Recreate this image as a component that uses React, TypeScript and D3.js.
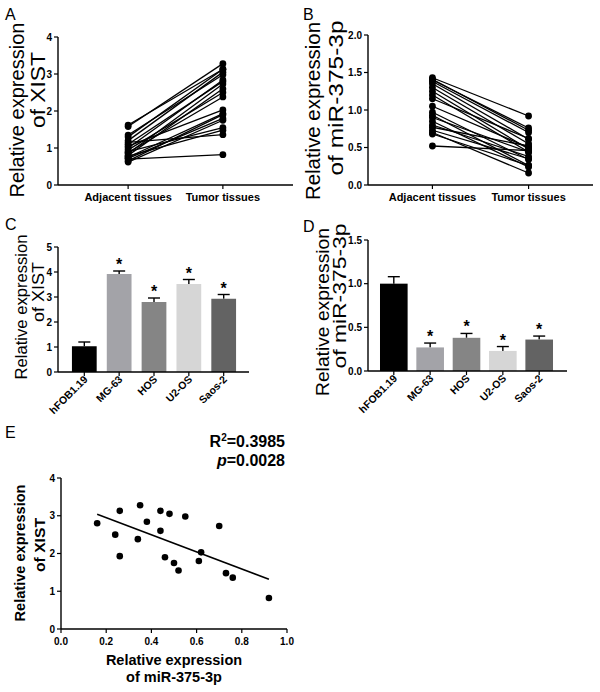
import React from "react";
import * as d3 from "d3";

const pairCategories = ["Adjacent tissues", "Tumor tissues"];
const xistAdjacent = [1.1, 0.95, 1.62, 0.75, 0.88, 1.58, 1.0, 1.3, 0.8, 0.65, 1.2, 0.62, 0.9, 1.35, 0.72, 1.05, 0.85, 0.78, 1.15, 0.7];
const xistTumor = [2.8, 2.5, 3.13, 1.93, 2.38, 3.28, 2.84, 3.13, 2.6, 1.9, 3.05, 1.75, 1.55, 2.98, 1.8, 2.03, 2.73, 1.48, 1.36, 0.82];
const mirAdjacent = [0.7, 0.85, 0.68, 0.93, 0.97, 0.73, 0.8, 1.2, 0.9, 0.52, 1.25, 1.05, 0.77, 1.3, 1.35, 1.15, 1.38, 1.41, 1.4, 1.43];
const mirTumor = [0.16, 0.24, 0.26, 0.26, 0.34, 0.35, 0.38, 0.44, 0.44, 0.46, 0.48, 0.5, 0.52, 0.55, 0.61, 0.62, 0.7, 0.73, 0.76, 0.92];

const cellLines = ["hFOB1.19", "MG-63", "HOS", "U2-OS", "Saos-2"];
const cellColors = ["#000000", "#a3a3a8", "#858585", "#d6d6d6", "#636363"];
const xistCell = [1.03, 3.92, 2.8, 3.52, 2.93];
const xistCellErr = [0.17, 0.12, 0.16, 0.18, 0.17];
const mirCell = [1.0, 0.27, 0.38, 0.23, 0.36];
const mirCellErr = [0.08, 0.05, 0.05, 0.05, 0.04];
const cellSig = [false, true, true, true, true];

const ticksA = [0, 1, 2, 3, 4];
const ticksB = [0, 0.5, 1, 1.5, 2];
const ticksC = [0, 1, 2, 3, 4, 5];
const ticksD = [0, 0.5, 1, 1.5];
const ticksEx = [0, 0.2, 0.4, 0.6, 0.8, 1.0];
const ticksEy = [0, 1, 2, 3, 4];

const FONT = "Liberation Sans, Arial, sans-serif";

function YAxis({ x, scale, ticks, fmt, y0, y1 }: any) {
  return (
    <g>
      <line x1={x} x2={x} y1={y0} y2={y1} stroke="#000" strokeWidth={1.4} />
      {ticks.map((t: number) => (
        <g key={t}>
          <line x1={x - 4} x2={x} y1={scale(t)} y2={scale(t)} stroke="#000" strokeWidth={1.2} />
          <text x={x - 6} y={scale(t)} dy="0.35em" textAnchor="end" fontSize={10} fontWeight="bold" fontFamily={FONT}>
            {fmt(t)}
          </text>
        </g>
      ))}
    </g>
  );
}

// rotated title line: baseline at x, centred on cy, forced length
function VText({ x, cy, text, size, len, bold }: any) {
  return (
    <text
      transform={`translate(${x},${cy}) rotate(-90)`}
      textAnchor="middle"
      fontSize={size}
      fontWeight={bold ? "bold" : "normal"}
      fontFamily={FONT}
      textLength={len}
      lengthAdjust="spacingAndGlyphs"
    >
      {text}
    </text>
  );
}

function PairPanel({ adj, tum, x0, x1, yTop, yBot, ymax, ticks, fmt, pad }: any) {
  const x = d3.scalePoint().domain(pairCategories).range([x0, x1]).padding(pad);
  const y = d3.scaleLinear().domain([0, ymax]).range([yBot, yTop]);
  const xa = x(pairCategories[0])!;
  const xt = x(pairCategories[1])!;
  return (
    <g>
      {adj.map((a: number, i: number) => (
        <line key={"l" + i} x1={xa} x2={xt} y1={y(a)} y2={y(tum[i])} stroke="#000" strokeWidth={1.3} />
      ))}
      {adj.map((a: number, i: number) => (
        <circle key={"a" + i} cx={xa} cy={y(a)} r={3.4} fill="#000" />
      ))}
      {tum.map((t: number, i: number) => (
        <circle key={"t" + i} cx={xt} cy={y(t)} r={3.4} fill="#000" />
      ))}
      <YAxis x={x0} scale={y} ticks={ticks} fmt={fmt} y0={yTop} y1={yBot} />
      <line x1={x0} x2={x1} y1={yBot} y2={yBot} stroke="#000" strokeWidth={1.4} />
      {pairCategories.map((c) => (
        <g key={c}>
          <line x1={x(c)} x2={x(c)} y1={yBot} y2={yBot + 4} stroke="#000" strokeWidth={1.2} />
          <text x={x(c)} y={yBot + 16} textAnchor="middle" fontSize={11} fontWeight="bold" fontFamily={FONT}>
            {c}
          </text>
        </g>
      ))}
    </g>
  );
}

function BarPanel({ vals, errs, x0, x1, axisEnd, yTop, yBot, ymax, ticks, fmt, padIn, padOut }: any) {
  const x = d3.scaleBand().domain(cellLines).range([x0, x1]).paddingInner(padIn).paddingOuter(padOut);
  const y = d3.scaleLinear().domain([0, ymax]).range([yBot, yTop]);
  const bw = x.bandwidth();
  return (
    <g>
      {cellLines.map((c, i) => {
        const cx = x(c)! + bw / 2;
        const top = y(vals[i] + errs[i]);
        return (
          <g key={c}>
            <line x1={cx} x2={cx} y1={y(vals[i])} y2={top} stroke="#000" strokeWidth={1.4} />
            <line x1={cx - 6} x2={cx + 6} y1={top} y2={top} stroke="#000" strokeWidth={1.4} />
            <rect x={x(c)} y={y(vals[i])} width={bw} height={yBot - y(vals[i])} fill={cellColors[i]} />
            {cellSig[i] && (
              <text x={cx} y={top - 1} textAnchor="middle" fontSize={16} fontWeight="bold" fontFamily={FONT}>
                *
              </text>
            )}
            <line x1={cx} x2={cx} y1={yBot} y2={yBot + 4} stroke="#000" strokeWidth={1.2} />
            <text
              transform={`translate(${cx + 4},${yBot + 8}) rotate(-45)`}
              textAnchor="end"
              fontSize={10.5}
              fontWeight="bold"
              fontFamily={FONT}
            >
              {c}
            </text>
          </g>
        );
      })}
      <YAxis x={x0} scale={y} ticks={ticks} fmt={fmt} y0={yTop} y1={yBot} />
      <line x1={x0} x2={axisEnd} y1={yBot} y2={yBot} stroke="#000" strokeWidth={1.4} />
    </g>
  );
}

function ScatterPanel() {
  const x = d3.scaleLinear().domain([0, 1]).range([61, 287]);
  const y = d3.scaleLinear().domain([0, 4]).range([629, 478]);
  const mx = d3.mean(mirTumor)!;
  const my = d3.mean(xistTumor)!;
  let sxy = 0, sxx = 0;
  mirTumor.forEach((v, i) => {
    sxy += (v - mx) * (xistTumor[i] - my);
    sxx += (v - mx) * (v - mx);
  });
  const slope = sxy / sxx;
  const icpt = my - slope * mx;
  const xmin = d3.min(mirTumor)!;
  const xmax = d3.max(mirTumor)!;
  const f1 = d3.format(".1f");
  return (
    <g>
      <line x1={x(xmin)} x2={x(xmax)} y1={y(icpt + slope * xmin)} y2={y(icpt + slope * xmax)} stroke="#000" strokeWidth={1.5} />
      {mirTumor.map((v, i) => (
        <circle key={i} cx={x(v)} cy={y(xistTumor[i])} r={3.3} fill="#000" />
      ))}
      <line x1={61} x2={61} y1={478} y2={629} stroke="#000" strokeWidth={1.4} />
      {ticksEy.map((t) => (
        <g key={t}>
          <line x1={57} x2={61} y1={y(t)} y2={y(t)} stroke="#000" strokeWidth={1.2} />
          <text x={55} y={y(t)} dy="0.35em" textAnchor="end" fontSize={10} fontWeight="bold" fontFamily={FONT}>
            {t}
          </text>
        </g>
      ))}
      <line x1={61} x2={287} y1={629} y2={629} stroke="#000" strokeWidth={1.4} />
      {ticksEx.map((t) => (
        <g key={t}>
          <line x1={x(t)} x2={x(t)} y1={629} y2={633} stroke="#000" strokeWidth={1.2} />
          <text x={x(t)} y={645} textAnchor="middle" fontSize={10} fontWeight="bold" fontFamily={FONT}>
            {f1(t)}
          </text>
        </g>
      ))}
      <text x={174} y={665} textAnchor="middle" fontSize={14.5} fontWeight="bold" fontFamily={FONT}>
        Relative expression
      </text>
      <text x={174} y={682} textAnchor="middle" fontSize={14.5} fontWeight="bold" fontFamily={FONT}>
        of miR-375-3p
      </text>
      <VText x={25} cy={553} text="Relative expression" size={15} len={137} bold />
      <VText x={45} cy={545} text="of XIST" size={15} len={54} bold />
      <text x={285} y={447} textAnchor="end" fontSize={16} fontWeight="bold" fontFamily={FONT}>
        R<tspan dy={-6} fontSize={10}>2</tspan>
        <tspan dy={6}>=0.3985</tspan>
      </text>
      <text x={285} y={466} textAnchor="end" fontSize={16} fontWeight="bold" fontFamily={FONT}>
        <tspan fontStyle="italic">p</tspan>=0.0028
      </text>
    </g>
  );
}

export default function App() {
  const f0 = d3.format("d");
  const f1 = d3.format(".1f");
  return (
    <svg width={600} height={692} style={{ position: "absolute", left: 0, top: 0, background: "#fff" }} fontFamily={FONT}>
      <rect width={600} height={692} fill="#fff" />
      <text x={5} y={20} fontSize={16} fontFamily={FONT}>A</text>
      <text x={303} y={20} fontSize={16} fontFamily={FONT}>B</text>
      <text x={5} y={230} fontSize={16} fontFamily={FONT}>C</text>
      <text x={303} y={232} fontSize={16} fontFamily={FONT}>D</text>
      <text x={5} y={438} fontSize={16} fontFamily={FONT}>E</text>

      <PairPanel adj={xistAdjacent} tum={xistTumor} x0={58} x1={293} yTop={37} yBot={185} ymax={4} ticks={ticksA} fmt={f0} pad={0.74} />
      <VText x={24} cy={110} text="Relative expression" size={21} len={175} />
      <VText x={45} cy={90} text="of XIST" size={21} len={76} />

      <PairPanel adj={mirAdjacent} tum={mirTumor} x0={368} x1={593} yTop={35} yBot={185} ymax={2} ticks={ticksB} fmt={f1} pad={0.67} />
      <VText x={320} cy={111} text="Relative expression" size={21} len={178} />
      <VText x={343} cy={98} text="of miR-375-3p" size={21} len={155} />

      <BarPanel vals={xistCell} errs={xistCellErr} x0={58} x1={250} axisEnd={249} yTop={247} yBot={372} ymax={5} ticks={ticksC} fmt={f0} padIn={0.29} padOut={0.4} />
      <VText x={27} cy={307} text="Relative expression" size={17} len={145} />
      <VText x={44} cy={292} text="of XIST" size={17} len={60} />

      <BarPanel vals={mirCell} errs={mirCellErr} x0={368} x1={565} axisEnd={567} yTop={240} yBot={371} ymax={1.5} ticks={ticksD} fmt={f1} padIn={0.24} padOut={0.33} />
      <VText x={329} cy={312} text="Relative expression" size={19} len={168} />
      <VText x={346} cy={296} text="of miR-375-3p" size={19} len={145} />

      <ScatterPanel />
    </svg>
  );
}
